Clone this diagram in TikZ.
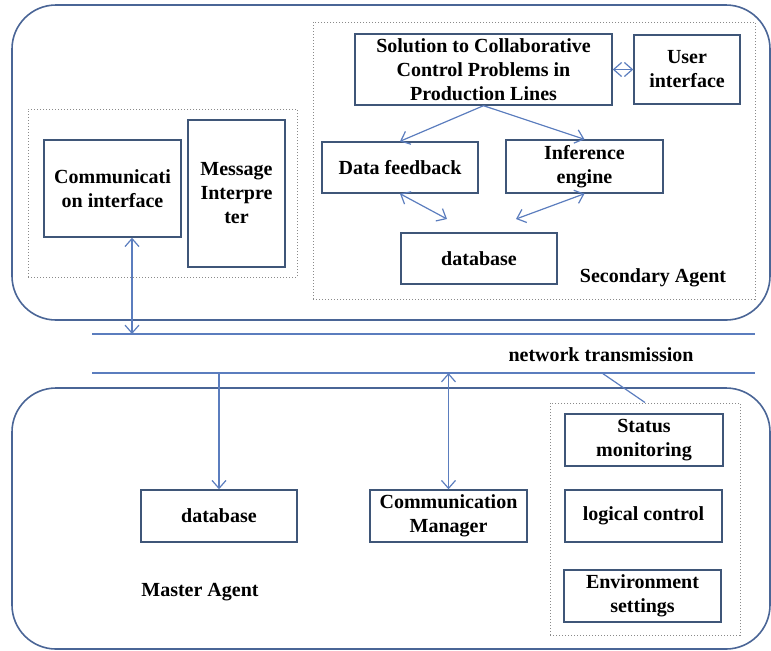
\documentclass[tikz,border=0pt]{standalone}
\usepackage{fontspec}
\setmainfont{Liberation Serif}
\usetikzlibrary{arrows.meta}

\begin{document}
\begin{tikzpicture}[x=0.5pt, y=-0.5pt,
    box/.style={draw=boxColour, line width=0.7pt, align=center, inner sep=1pt,
        minimum width=78pt, minimum height=26pt, font=\bfseries\fontsize{10}{12}\selectfont},
    dotbox/.style={draw=dotColour, densely dotted, line width=0.5pt, inner sep=0pt},
    agent/.style={draw=agentColour, line width=0.8pt, rounded corners=22pt},
    link/.style={draw=linkColour, line width=0.6pt},
    oneway/.style={link, -{Straight Barb[length=4pt, width=7pt]}},
    twoway/.style={link, {Straight Barb[length=4pt, width=7pt]}-{Straight Barb[length=4pt, width=7pt]}},
    agentname/.style={font=\bfseries\fontsize{10}{12}\selectfont}]
    \definecolor{boxColour}{HTML}{3F5678}
    \definecolor{agentColour}{HTML}{4A6596}
    \definecolor{linkColour}{HTML}{5B7DBE}
    \definecolor{dotColour}{HTML}{8A8A8A}

    \useasboundingbox (0,0) rectangle (771,650);

    % Draw agent outlines
    \draw[agent] (12,5) rectangle (770,320);
    \draw[agent] (12,388) rectangle (770,649);

    % Draw network lines
    \coordinate (netAw) at (92,334);
    \coordinate (netAe) at (755,334);
    \coordinate (netBw) at (92,373);
    \coordinate (netBe) at (755,373);
    \draw[link] (netAw) -- (netAe);
    \draw[link] (netBw) -- (netBe);
    \node[agentname] (net) at (601,355) {network transmission};

    % Secondary agent, communication part
    \node[dotbox, minimum width=134.5pt, minimum height=84pt] (commPart) at (162.5,193) {};
    \node[box, minimum width=68.5pt, minimum height=48.5pt] (comm) at (112.5,188.5) {Communicati\\on interface};
    \node[box, minimum width=48.5pt, minimum height=73.5pt] (msg) at (236.5,193.5) {Message\\Interpre\\ter};

    % Secondary agent, control part
    \node[dotbox, minimum width=221pt, minimum height=138.5pt] (ctrlPart) at (534,160.5) {};
    \node[box, minimum width=128.5pt, minimum height=35.5pt] (sol) at (483.5,69.5) {Solution to Collaborative\\Control Problems in\\Production Lines};
    \node[box, minimum width=53pt, minimum height=34.5pt] (user) at (687,69.5) {User\\interface};
    \node[box, minimum height=25.5pt] (feed) at (400,167.5) {Data feedback};
    \node[box, minimum width=78.5pt, minimum height=26.5pt] (infer) at (584.5,166.5) {Inference\\engine};
    \node[box, minimum height=25.5pt] (dbS) at (479,258.5) {database};
    \node[agentname] (secName) at (653,278) {Secondary Agent};

    \coordinate (dbL) at (447,219);
    \coordinate (dbR) at (516,219);
    \draw[twoway] (sol.east) -- (user.west);
    \draw[oneway] (sol.south) -- (feed.north);
    \draw[oneway] (sol.south) -- (infer.north);
    \draw[twoway] (feed.south) -- (dbL);
    \draw[twoway] (infer.south) -- (dbR);

    % Master agent
    \node[box] (dbM) at (219,516) {database};
    \node[box, minimum width=78.5pt] (cm) at (448.5,516) {Communication\\Manager};
    \node[dotbox, minimum width=95pt, minimum height=116pt] (ctlPart) at (645,519) {};
    \node[box, minimum width=79pt] (status) at (644,440) {Status\\monitoring};
    \node[box, minimum width=78.5pt] (logic) at (643.5,516) {logical control};
    \node[box, minimum width=78.5pt] (env) at (642.5,596) {Environment\\settings};
    \node[agentname] (masName) at (200,592) {Master Agent};

    % Connect agents to network
    \coordinate (ci) at ([xshift=9.75pt]comm.south);
    \coordinate (tap) at (602,373);
    \draw[twoway] (ci) -- (ci |- netAw);
    \draw[oneway] (dbM.north |- netBw) -- (dbM.north);
    \draw[twoway] (cm.north |- netBw) -- (cm.north);
    \draw[link] (tap) -- (ctlPart.north);

\end{tikzpicture}
\end{document}
